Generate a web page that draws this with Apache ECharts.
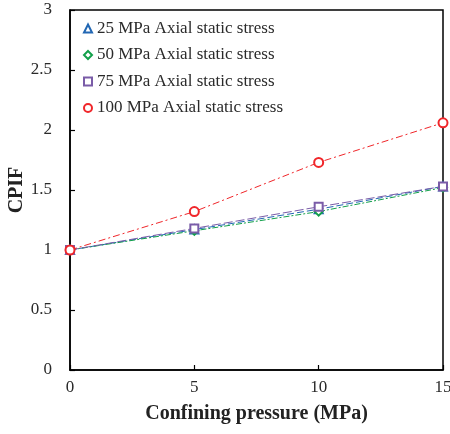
<!DOCTYPE html>
<html><head><meta charset="utf-8">
<script src="https://cdn.jsdelivr.net/npm/echarts@6/dist/echarts.min.js"></script>
<style>html,body{margin:0;padding:0;background:#fff}#c{width:450px;height:434px}</style>
</head><body><div id="c"></div>
<script>
const xValues = [0, 5, 10, 15];
const names = ['25 MPa Axial static stress','50 MPa Axial static stress','75 MPa Axial static stress','100 MPa Axial static stress'];
const s25 = [1, 1.17, 1.34, 1.53];
const s50 = [1, 1.16, 1.32, 1.52];
const s75 = [1, 1.18, 1.36, 1.53];
const s100 = [1, 1.32, 1.73, 2.06];
const xTicks = [0, 5, 10, 15];
const yTicks = [0, 0.5, 1, 1.5, 2, 2.5, 3];

const colors = ['#2267b3', '#12a04a', '#7a5ca8', '#f0262a'];
const symbols = ['emptyTriangle', 'emptyDiamond', 'emptyRect', 'emptyCircle'];
const dashes = [[7,3], [6,2,2,2], [9,3], [7,3,2,3]];
const data = [s25, s50, s75, s100];

const chart = echarts.init(document.getElementById('c'));
const font = 'Liberation Serif';
chart.setOption({
  animation: false,
  backgroundColor: '#fff',
  grid: {left: 70, right: 7, top: 10, bottom: 64, outerBoundsMode: 'none', containLabel: false,
    show: true, borderColor: '#000', borderWidth: 1.5, backgroundColor: 'transparent'},
  legend: {
    orient: 'vertical', left: 78, top: 14, itemGap: 7.5, itemWidth: 8, itemHeight: 8,
    textStyle: {fontFamily: font, fontSize: 17, color: '#2a2a2a', lineHeight: 19, padding: [0,0,0,0]},
    data: names.map((n, i) => ({name: n, icon: symbols[i]}))
  },
  xAxis: {
    type: 'value', min: 0, max: 15, interval: 5,
    axisLine: {lineStyle: {color: '#000', width: 1.5}},
    axisTick: {inside: true, length: 5, lineStyle: {color: '#000', width: 1.2}},
    splitLine: {show: false},
    axisLabel: {fontFamily: font, fontSize: 17, color: '#2a2a2a', margin: 9,
      formatter: v => xTicks.includes(v) ? String(v) : ''},
    name: 'Confining pressure (MPa)', nameLocation: 'middle', nameGap: 34, nameMoveOverlap: false,
    nameTextStyle: {fontFamily: font, fontSize: 20, fontWeight: 'bold', color: '#222'}
  },
  yAxis: {
    type: 'value', min: 0, max: 3, interval: 0.5,
    axisLine: {lineStyle: {color: '#000', width: 1.5}},
    axisTick: {inside: true, length: 5, lineStyle: {color: '#000', width: 1.2}},
    splitLine: {show: false},
    axisLabel: {fontFamily: font, fontSize: 17, color: '#2a2a2a', margin: 18,
      formatter: v => yTicks.includes(v) ? String(v) : ''},
    name: 'CPIF', nameLocation: 'middle', nameGap: 43, nameRotate: 90, nameMoveOverlap: false,
    nameTextStyle: {fontFamily: font, fontSize: 20, fontWeight: 'bold', color: '#222'}
  },
  series: data.map((d, i) => ({
    name: names[i], type: 'line',
    data: xValues.map((x, j) => [x, d[j]]),
    symbol: symbols[i], symbolSize: i === 3 ? 9 : 8,
    itemStyle: {color: colors[i], borderWidth: 1.2},
    lineStyle: {color: colors[i], width: 1, type: dashes[i]},
    z: 3 + i
  }))
});
</script></body></html>
